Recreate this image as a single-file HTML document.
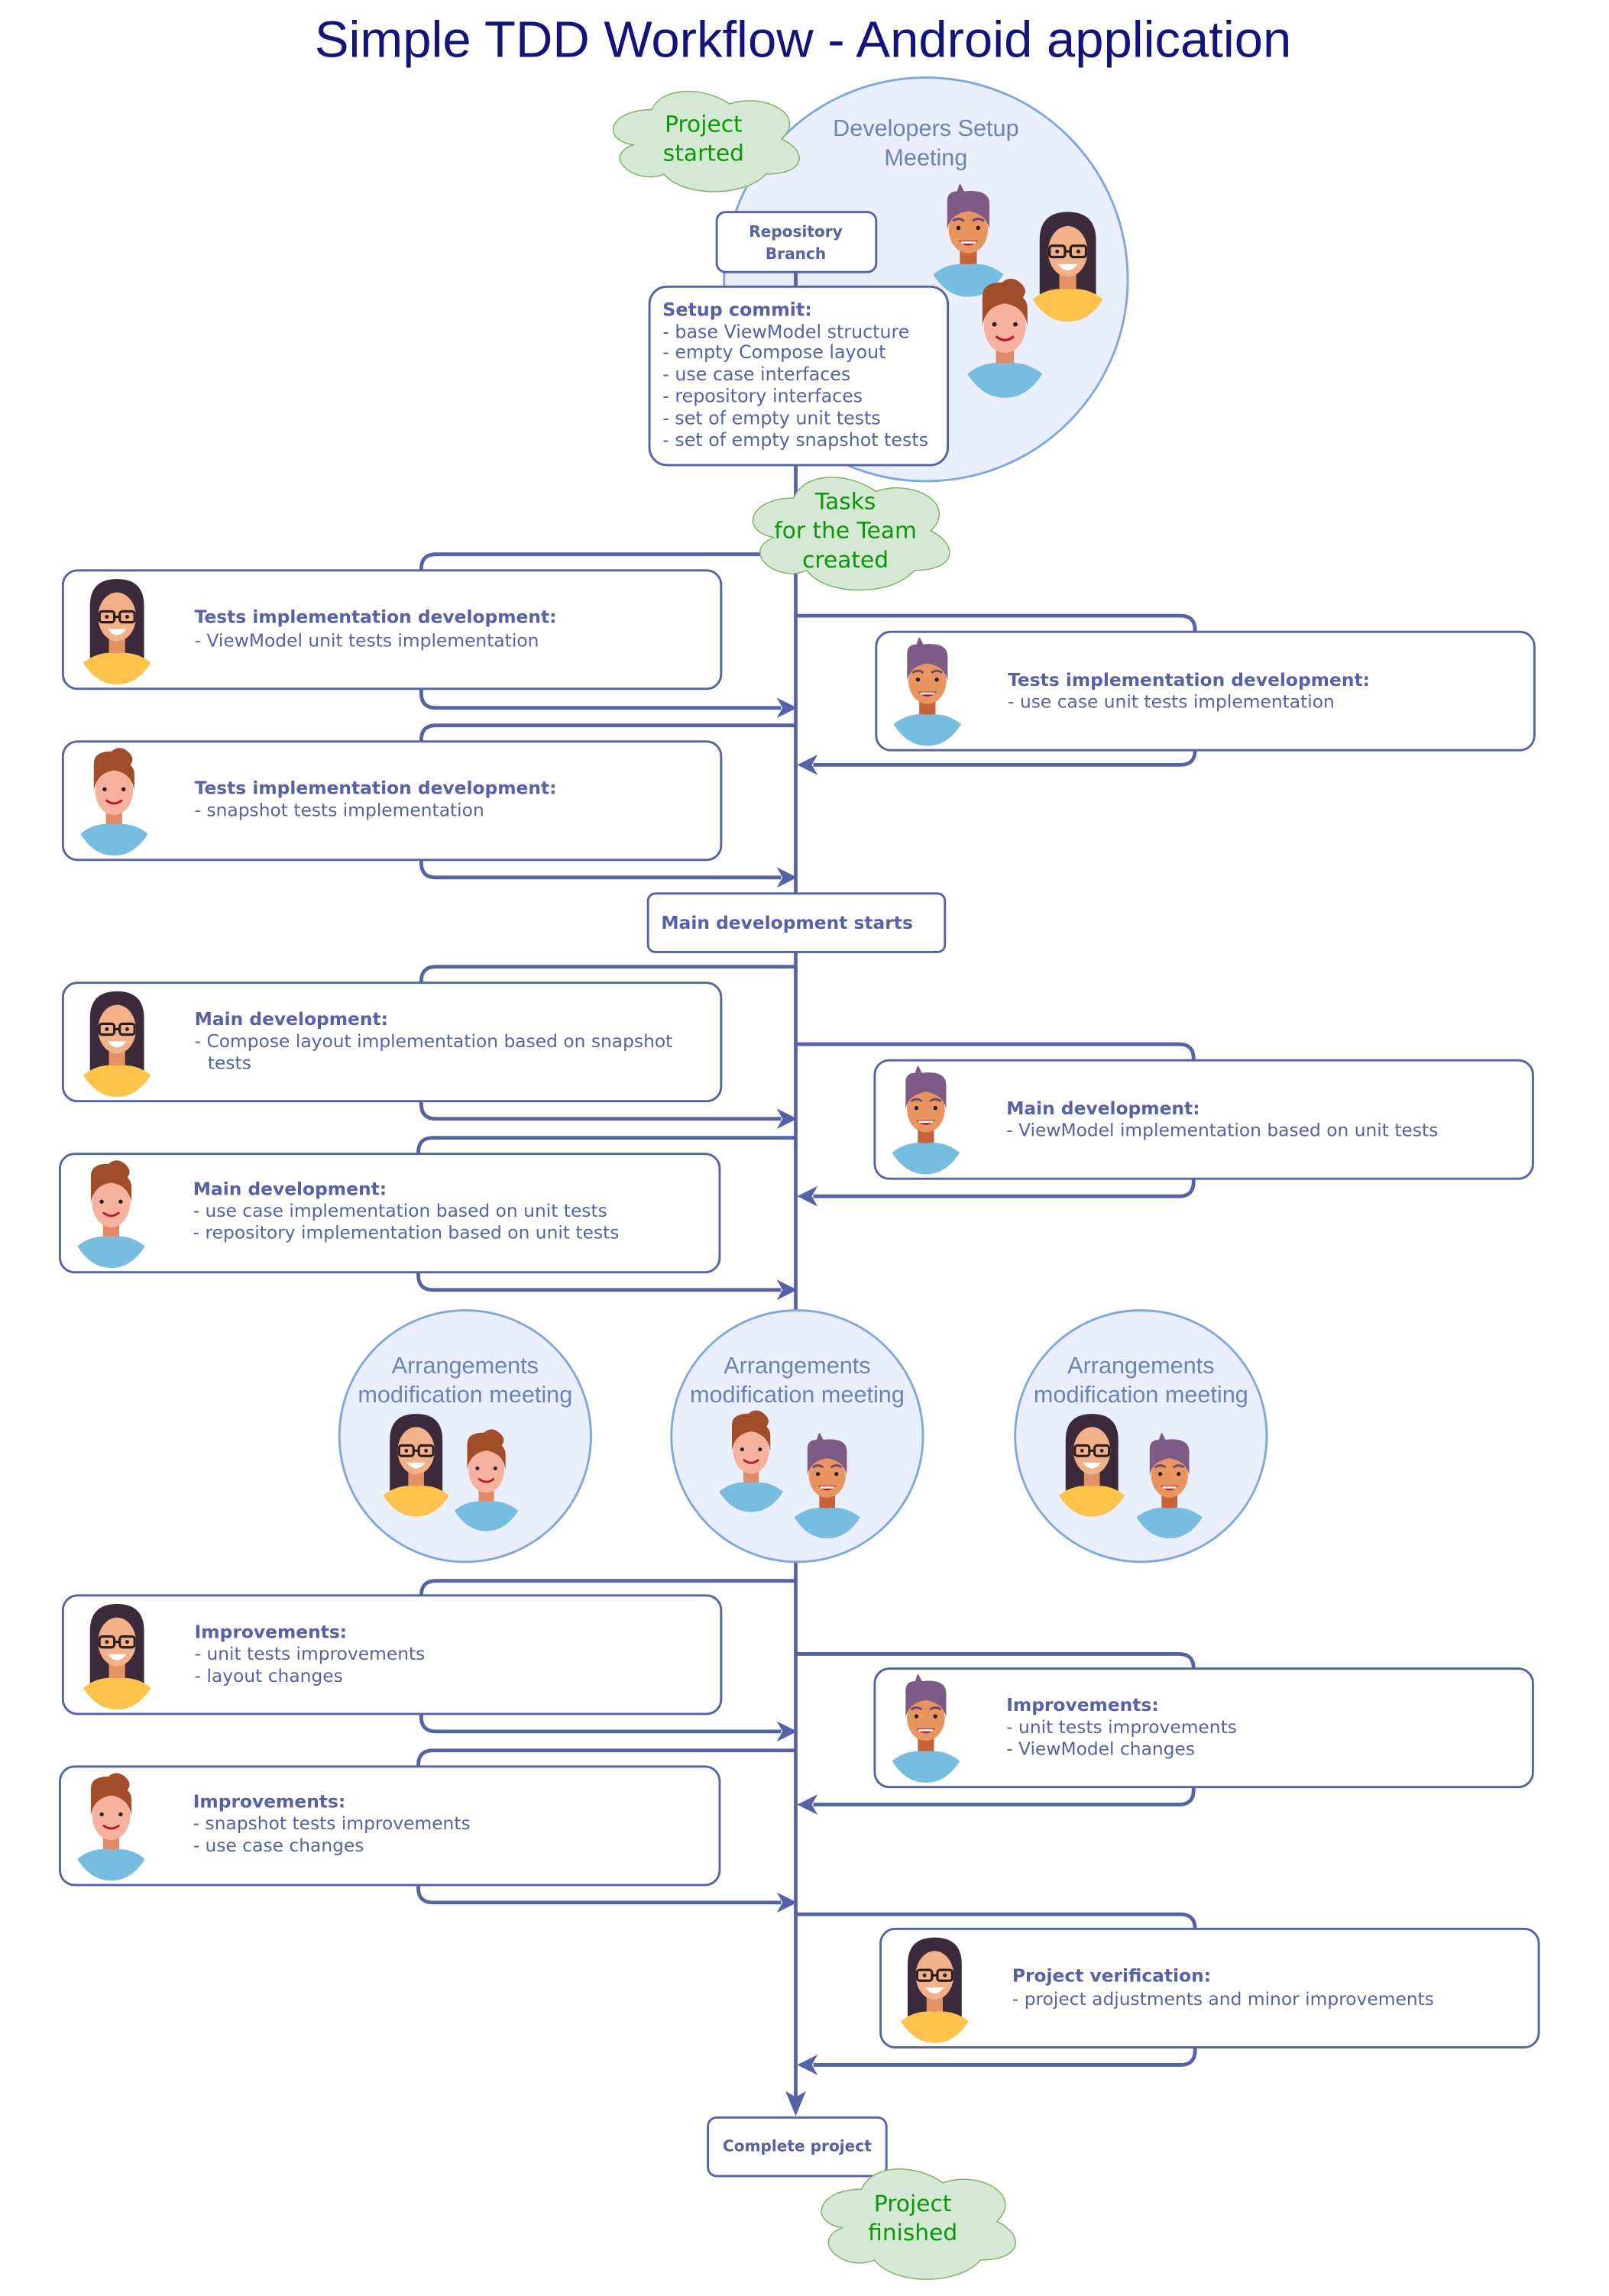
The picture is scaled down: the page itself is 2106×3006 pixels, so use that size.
<!DOCTYPE html>
<html><head><meta charset="utf-8"><style>
html,body{margin:0;padding:0;background:#fff;}
svg{display:block;}
.bx{fill:#fff;stroke:#5561a8;stroke-width:1.5;}
.t{font-family:"DejaVu Sans",Verdana,sans-serif;font-size:12.2px;fill:#5561a8;}
.b{font-weight:bold;}
.s{font-size:10.5px;}
.c{fill:none;stroke:#5561a8;stroke-width:2.5;}
.ar{fill:#5561a8;}
.circ{fill:#e9effc;stroke:#7ea6e0;stroke-width:1.5;}
.ct{font-family:"Liberation Sans",Arial,sans-serif;font-size:16px;fill:#6a84b4;text-anchor:middle;}
.gt{font-family:"DejaVu Sans",Verdana,sans-serif;font-size:15.5px;fill:#079907;text-anchor:middle;}
</style></head><body>
<svg width="2106" height="3006" viewBox="0 0 1100 1570" xmlns="http://www.w3.org/2000/svg">
<defs>
<symbol id="cloud" viewBox="0 0 100 100" preserveAspectRatio="none">
<path d="M25 25 C5 25 0 50 16 55 C0 66 18 90 31 80 C40 100 70 100 80 80 C100 80 100 60 87.5 50 C100 30 80 10 62.5 20 C50 5 30 5 25 25Z" fill="#d5e8d4" stroke="#82b366" stroke-width="1.5" vector-effect="non-scaling-stroke"/>
</symbol>
<symbol id="girl" viewBox="0 0 60 80">
<path d="M10 22 Q10 2 30 2 Q50 2 50 22 V64 H10Z" fill="#3b2a3a"/>
<rect x="24" y="44" width="12" height="16" fill="#e39263"/>
<path d="M5 64 Q16 55 30 57 Q44 55 55 64 Q45 80 30 80 Q15 80 5 64Z" fill="#fec34a"/>
<ellipse cx="30" cy="30" rx="14" ry="18" fill="#f2b187"/>
<rect x="17" y="26" width="11" height="8" rx="2" fill="none" stroke="#2a1e22" stroke-width="1.8"/>
<rect x="32" y="26" width="11" height="8" rx="2" fill="none" stroke="#2a1e22" stroke-width="1.8"/>
<line x1="28" y1="30" x2="32" y2="30" stroke="#2a1e22" stroke-width="1.8"/>
<circle cx="22.5" cy="30" r="1.4" fill="#2a1e22"/><circle cx="37.5" cy="30" r="1.4" fill="#2a1e22"/>
<path d="M23 39 Q30 48 37 39Z" fill="#fff"/>
</symbol>
<symbol id="man" viewBox="0 0 60 80">
<rect x="24" y="44" width="12" height="16" fill="#c9623a"/>
<path d="M5 64 Q16 55 30 57 Q44 55 55 64 Q45 80 30 80 Q15 80 5 64Z" fill="#77bde0"/>
<ellipse cx="30" cy="32" rx="14" ry="17" fill="#e8955f"/>
<path d="M15 32 V12 Q15 5 22 5 L24 -1 L27 5 Q45 3 45 14 V32 Q43 21 30 19 Q17 21 15 32Z" fill="#7e5a86"/>
<path d="M19 26 Q23 23 27 26 M33 26 Q37 23 41 26" stroke="#6a4a70" stroke-width="1.6" fill="none"/>
<circle cx="23" cy="31" r="1.5" fill="#2a1e22"/><circle cx="37" cy="31" r="1.5" fill="#2a1e22"/>
<path d="M23 40 Q30 47 37 40Z" fill="#b3192a"/><path d="M24.5 40.5 H35.5 L35 42 H25Z" fill="#fff"/>
</symbol>
<symbol id="boy" viewBox="0 0 60 80">
<rect x="24" y="44" width="12" height="16" fill="#e08a6a"/>
<path d="M5 64 Q16 55 30 57 Q44 55 55 64 Q45 80 30 80 Q15 80 5 64Z" fill="#77bde0"/>
<ellipse cx="30" cy="32" rx="14" ry="18" fill="#f6b29c"/>
<path d="M15 32 V12 Q15 3 28 3 Q34 -2 40 3 Q46 8 42 13 Q45 16 45 20 V32 Q43 19 30 17 Q17 19 15 32Z" fill="#a24d2a"/>
<circle cx="23" cy="31" r="1.5" fill="#2a1e22"/><circle cx="37" cy="31" r="1.5" fill="#2a1e22"/>
<path d="M24 39 Q30 44 36 39" stroke="#b3192a" stroke-width="1.6" fill="none"/>
</symbol>
</defs>

<text x="549" y="39" font-family="'Liberation Sans',Arial,sans-serif" font-size="35" fill="#121280" text-anchor="middle">Simple TDD Workflow - Android application</text>

<circle class="circ" cx="633" cy="191" r="138"/>
<text class="ct" x="633" y="93">Developers Setup</text>
<text class="ct" x="633" y="113">Meeting</text>
<use href="#man" x="633" y="126" width="58" height="77"/>
<use href="#girl" x="701" y="143" width="58" height="77"/>
<use href="#boy" x="655" y="190" width="64" height="82"/>

<line x1="544" y1="186" x2="544" y2="1436" class="c"/>
<polygon class="ar" points="544,1447 537,1430 544,1434 551,1430"/>

<circle class="circ" cx="318" cy="982" r="86"/>
<circle class="circ" cx="545" cy="982" r="86"/>
<circle class="circ" cx="780" cy="982" r="86"/>
<text class="ct" x="318" y="939">Arrangements</text><text class="ct" x="318" y="959">modification meeting</text>
<text class="ct" x="545" y="939">Arrangements</text><text class="ct" x="545" y="959">modification meeting</text>
<text class="ct" x="780" y="939">Arrangements</text><text class="ct" x="780" y="959">modification meeting</text>
<use href="#girl" x="256" y="965" width="57" height="72"/>
<use href="#boy" x="305" y="977" width="55" height="70"/>
<use href="#boy" x="486" y="964" width="55" height="70"/>
<use href="#man" x="537" y="980" width="57" height="72"/>
<use href="#girl" x="718" y="965" width="57" height="72"/>
<use href="#man" x="771" y="980" width="57" height="72"/>

<g class="c">
<path d="M544 379 H298 Q288 379 288 389 V391 M288 471 V474 Q288 484 298 484 H534"/>
<path d="M544 496 H298 Q288 496 288 506 V508 M288 588 V590 Q288 600 298 600 H534"/>
<path d="M544 661 H298 Q288 661 288 671 V673 M288 753 V755 Q288 765 298 765 H534"/>
<path d="M544 778 H296 Q286 778 286 788 V790 M286 870 V872 Q286 882 296 882 H534"/>
<path d="M544 1081 H298 Q288 1081 288 1091 V1092 M288 1172 V1174 Q288 1184 298 1184 H534"/>
<path d="M544 1197 H296 Q286 1197 286 1207 V1209 M286 1289 V1291 Q286 1301 296 1301 H534"/>
<path d="M544 421 H807 Q817 421 817 431 V433 M817 513 Q817 523 807 523 H556"/>
<path d="M544 714 H806 Q816 714 816 724 V726 M816 806 V808 Q816 818 806 818 H556"/>
<path d="M544 1131 H806 Q816 1131 816 1141 V1142 M816 1222 V1224 Q816 1234 806 1234 H556"/>
<path d="M544 1309 H807 Q817 1309 817 1319 V1320 M817 1400 V1402 Q817 1412 807 1412 H556"/>
</g>
<g class="ar">
<polygon points="545,484 531,477 535,484 531,491"/>
<polygon points="545,600 531,593 535,600 531,607"/>
<polygon points="545,765 531,758 535,765 531,772"/>
<polygon points="545,882 531,875 535,882 531,889"/>
<polygon points="545,1184 531,1177 535,1184 531,1191"/>
<polygon points="545,1301 531,1294 535,1301 531,1308"/>
<polygon points="545,523 559,516 555,523 559,530"/>
<polygon points="545,818 559,811 555,818 559,825"/>
<polygon points="545,1234 559,1227 555,1234 559,1241"/>
<polygon points="545,1412 559,1405 555,1412 559,1419"/>
</g>

<rect class="bx" x="490" y="145" width="109" height="41" rx="6"/>
<text class="t b s" x="544" y="162" text-anchor="middle">Repository</text>
<text class="t b s" x="544" y="177" text-anchor="middle">Branch</text>
<rect class="bx" x="444" y="196" width="204" height="122" rx="12"/>
<g class="t" style="font-size:12.4px">
<text class="b" x="453" y="216">Setup commit:</text>
<text x="453" y="231">- base ViewModel structure</text>
<text x="453" y="245">- empty Compose layout</text>
<text x="453" y="260">- use case interfaces</text>
<text x="453" y="275">- repository interfaces</text>
<text x="453" y="290">- set of empty unit tests</text>
<text x="453" y="305">- set of empty snapshot tests</text>
</g>

<use href="#cloud" x="410" y="55" width="142" height="80"/>
<text class="gt" x="481" y="90">Project</text><text class="gt" x="481" y="110">started</text>
<use href="#cloud" x="505" y="318" width="150" height="90"/>
<text class="gt" x="578" y="348">Tasks</text><text class="gt" x="578" y="368">for the Team</text><text class="gt" x="578" y="388">created</text>

<rect class="bx" x="43" y="390" width="450" height="81" rx="10"/>
<use href="#girl" x="51" y="394" width="58" height="74"/>
<text class="t b" x="133" y="426">Tests implementation development:</text>
<text class="t" x="133" y="442">- ViewModel unit tests implementation</text>

<rect class="bx" x="599" y="432" width="450" height="81" rx="10"/>
<use href="#man" x="605" y="436" width="58" height="74"/>
<text class="t b" x="689" y="469">Tests implementation development:</text>
<text class="t" x="689" y="484">- use case unit tests implementation</text>

<rect class="bx" x="43" y="507" width="450" height="81" rx="10"/>
<use href="#boy" x="49" y="511" width="58" height="74"/>
<text class="t b" x="133" y="543">Tests implementation development:</text>
<text class="t" x="133" y="558">- snapshot tests implementation</text>

<rect class="bx" x="443" y="611" width="203" height="40" rx="5"/>
<text class="t b" x="452" y="635">Main development starts</text>

<rect class="bx" x="43" y="672" width="450" height="81" rx="10"/>
<use href="#girl" x="51" y="676" width="58" height="74"/>
<text class="t b" x="133" y="701">Main development:</text>
<text class="t" x="133" y="716">- Compose layout implementation based on snapshot</text>
<text class="t" x="142" y="731">tests</text>

<rect class="bx" x="598" y="725" width="450" height="81" rx="10"/>
<use href="#man" x="604" y="729" width="58" height="74"/>
<text class="t b" x="688" y="762">Main development:</text>
<text class="t" x="688" y="777">- ViewModel implementation based on unit tests</text>

<rect class="bx" x="41" y="789" width="451" height="81" rx="10"/>
<use href="#boy" x="47" y="793" width="58" height="74"/>
<text class="t b" x="132" y="817">Main development:</text>
<text class="t" x="132" y="832">- use case implementation based on unit tests</text>
<text class="t" x="132" y="847">- repository implementation based on unit tests</text>

<rect class="bx" x="43" y="1091" width="450" height="81" rx="10"/>
<use href="#girl" x="51" y="1095" width="58" height="74"/>
<text class="t b" x="133" y="1120">Improvements:</text>
<text class="t" x="133" y="1135">- unit tests improvements</text>
<text class="t" x="133" y="1150">- layout changes</text>

<rect class="bx" x="598" y="1141" width="450" height="81" rx="10"/>
<use href="#man" x="604" y="1145" width="58" height="74"/>
<text class="t b" x="688" y="1170">Improvements:</text>
<text class="t" x="688" y="1185">- unit tests improvements</text>
<text class="t" x="688" y="1200">- ViewModel changes</text>

<rect class="bx" x="41" y="1208" width="451" height="81" rx="10"/>
<use href="#boy" x="47" y="1212" width="58" height="74"/>
<text class="t b" x="132" y="1236">Improvements:</text>
<text class="t" x="132" y="1251">- snapshot tests improvements</text>
<text class="t" x="132" y="1266">- use case changes</text>

<rect class="bx" x="602" y="1319" width="450" height="81" rx="10"/>
<use href="#girl" x="610" y="1323" width="58" height="74"/>
<text class="t b" x="692" y="1355">Project verification:</text>
<text class="t" x="692" y="1371">- project adjustments and minor improvements</text>

<rect class="bx" x="484" y="1448" width="122" height="40" rx="6"/>
<text class="t b s" x="545" y="1471" text-anchor="middle">Complete project</text>

<use href="#cloud" x="552" y="1475" width="148" height="88"/>
<text class="gt" x="624" y="1512">Project</text><text class="gt" x="624" y="1532">finished</text>
</svg>
</body></html>
